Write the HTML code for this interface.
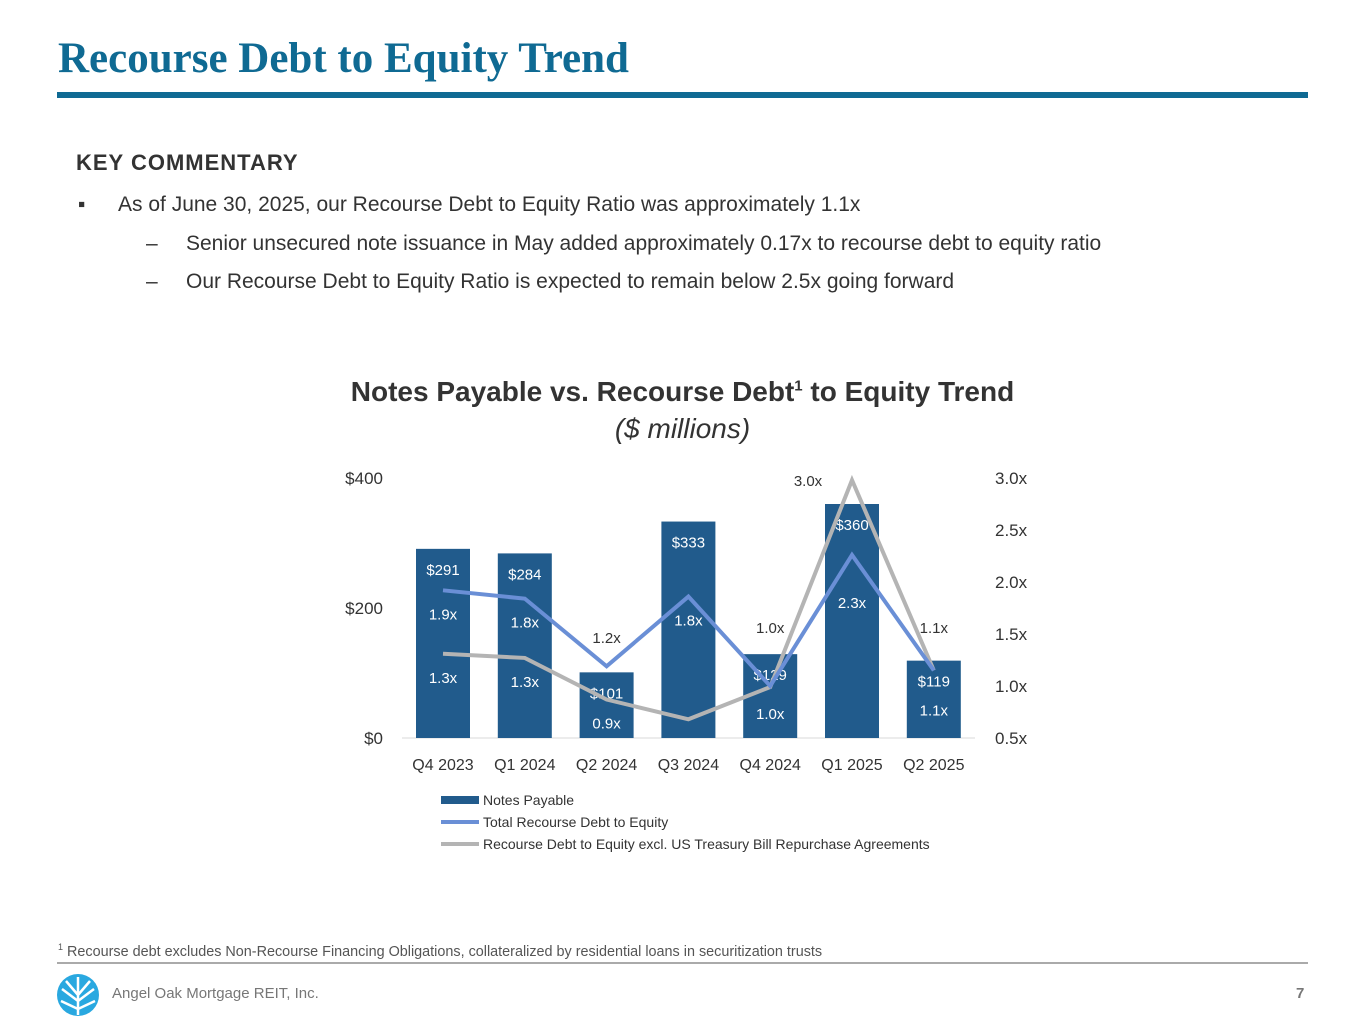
<!DOCTYPE html>
<html><head><meta charset="utf-8"><style>
body{margin:0;width:1365px;height:1024px;background:#fff;font-family:"Liberation Sans",sans-serif;position:relative;overflow:hidden}
.abs{position:absolute;white-space:nowrap}
</style></head><body>
<div class="abs" style="left:58px;top:34px;font-family:'Liberation Serif',serif;font-weight:bold;font-size:43px;color:#0f6a93">Recourse Debt to Equity Trend</div>
<div class="abs" style="left:57px;top:92px;width:1251px;height:6px;background:#0f6a93"></div>
<div class="abs" style="left:76px;top:150px;font-size:22px;font-weight:bold;color:#333;letter-spacing:1px">KEY COMMENTARY</div>
<div class="abs" style="left:78px;top:193px;font-size:21px;color:#333">▪<span style="position:absolute;left:40px">As of June 30, 2025, our Recourse Debt to Equity Ratio was approximately 1.1x</span></div>
<div class="abs" style="left:146px;top:232px;font-size:21px;color:#333">–<span style="position:absolute;left:40px">Senior unsecured note issuance in May added approximately 0.17x to recourse debt to equity ratio</span></div>
<div class="abs" style="left:146px;top:270px;font-size:21px;color:#333">–<span style="position:absolute;left:40px">Our Recourse Debt to Equity Ratio is expected to remain below 2.5x going forward</span></div>
<div class="abs" style="left:0;width:1365px;text-align:center;top:376px;font-size:28px;font-weight:bold;color:#333">Notes Payable vs. Recourse Debt<sup style="font-size:15px">1</sup> to Equity Trend</div>
<div class="abs" style="left:0;width:1365px;text-align:center;top:413px;font-size:28px;font-style:italic;color:#333">($ millions)</div>
<svg id="chart" class="abs" style="left:0;top:0" width="1365" height="1024"></svg>
<div class="abs" style="left:58px;top:942px;font-size:14.4px;color:#555"><sup style="font-size:9px">1</sup> Recourse debt excludes Non-Recourse Financing Obligations, collateralized by residential loans in securitization trusts</div>
<div class="abs" style="left:57px;top:962px;width:1251px;height:2px;background:#aaa"></div>
<svg class="abs" style="left:56px;top:973px" width="44" height="44" viewBox="0 0 44 44"><circle cx="22" cy="22" r="21" fill="#29a8e0"/><path d="M22 4V42M22 28L6 16M22 22L10 8M22 28L38 16M22 22L34 8M22 36L5 28M22 36L39 28" stroke="#fff" stroke-width="2.5" fill="none"/></svg>
<div class="abs" style="left:112px;top:985px;font-size:15px;color:#777">Angel Oak Mortgage REIT, Inc.</div>
<div class="abs" style="left:1296px;top:985px;font-size:15px;font-weight:bold;color:#777">7</div>
<script>
const categories=["Q4 2023","Q1 2024","Q2 2024","Q3 2024","Q4 2024","Q1 2025","Q2 2025"];
const notesPayable=[291,284,101,333,129,360,119];
const totalRatio=[1.92,1.84,1.19,1.86,1.0,2.26,1.15];
const exclRatio=[1.31,1.27,0.87,0.68,0.99,2.98,1.15];
const totalLabels=["1.9x","1.8x","1.2x","1.8x","1.0x","2.3x","1.1x"];
const exclLabels=["1.3x","1.3x","0.9x","0.7x","1.0x","3.0x","1.1x"];
const leftTicks=[0,200,400];
const rightTicks=[0.5,1.0,1.5,2.0,2.5,3.0];
const svg=document.getElementById('chart');const NS='http://www.w3.org/2000/svg';
const xC=i=>443+i*81.8, yL=v=>738-v*0.65, yR=v=>738-(v-0.5)*104;
function el(t,a,txt){const e=document.createElementNS(NS,t);for(const k in a)e.setAttribute(k,a[k]);if(txt!==undefined)e.textContent=txt;svg.appendChild(e);return e;}
function txt(x,y,s,fill,anchor,size){return el('text',{x:x,y:y,fill:fill,'font-size':size||15,'text-anchor':anchor||'middle','font-family':'Liberation Sans, sans-serif'},s);}
const axis=el('line',{x1:402,x2:975,y1:738,y2:738,stroke:'#d9d9d9'});

leftTicks.forEach(v=>{const t=txt(383,yL(v)+6,'$'+v,'#333','end',17);});
rightTicks.forEach(v=>{const t=txt(995,yR(v)+6,v.toFixed(1)+'x','#333','start',17);});
categories.forEach((c,i)=>{const t=txt(xC(i),770,c,'#333','middle',16);});
notesPayable.forEach((v,i)=>{const r=el('rect',{x:xC(i)-27,y:yL(v),width:54,height:738-yL(v),fill:'#215b8c'});

const t=txt(xC(i),yL(v)+26,'$'+v,'#fff','middle',15);});
function line(vals,color,name){const p=el('polyline',{points:vals.map((v,i)=>xC(i)+','+yR(v)).join(' '),fill:'none',stroke:color,'stroke-width':4});
}
line(exclRatio,'#b4b4b4','line-excl-treasury');
line(totalRatio,'#6a8fd6','line-total-ratio');
totalLabels.forEach((s,i)=>{let inBar=yR(totalRatio[i])>yL(notesPayable[i])+30;if(i==4||i==6)inBar=false;
let y=inBar?yR(totalRatio[i])+29:yR(totalRatio[i])-23;
if(i==5)y=yR(totalRatio[i])+53;
if(i==4||i==6)y=633;
const t=txt(xC(i),y,s,inBar?'#fff':'#333','middle',15);});
exclLabels.forEach((s,i)=>{let y=yR(exclRatio[i])+29;let fill='#fff';let dx=0;
if(i==5){y=yR(exclRatio[i])+6;fill='#333';dx=-44;}
if(i==6){y=yR(totalRatio[i])+45;}
if(i==4){y=719;}
const t=txt(xC(i)+dx,y,s,fill,'middle',15);});
const leg=[['Notes Payable','bar'],['Total Recourse Debt to Equity','#6a8fd6'],['Recourse Debt to Equity excl. US Treasury Bill Repurchase Agreements','#b4b4b4']];
leg.forEach((l,i)=>{const y=801+i*22;
if(l[1]=='bar'){const r=el('rect',{x:441,y:y-5,width:38,height:8,fill:'#215b8c'});}
else{const r=el('line',{x1:441,x2:479,y1:y-1,y2:y-1,stroke:l[1],'stroke-width':4});}
const t=txt(483,y+4,l[0],'#333','start',14);});
</script>
</body></html>
